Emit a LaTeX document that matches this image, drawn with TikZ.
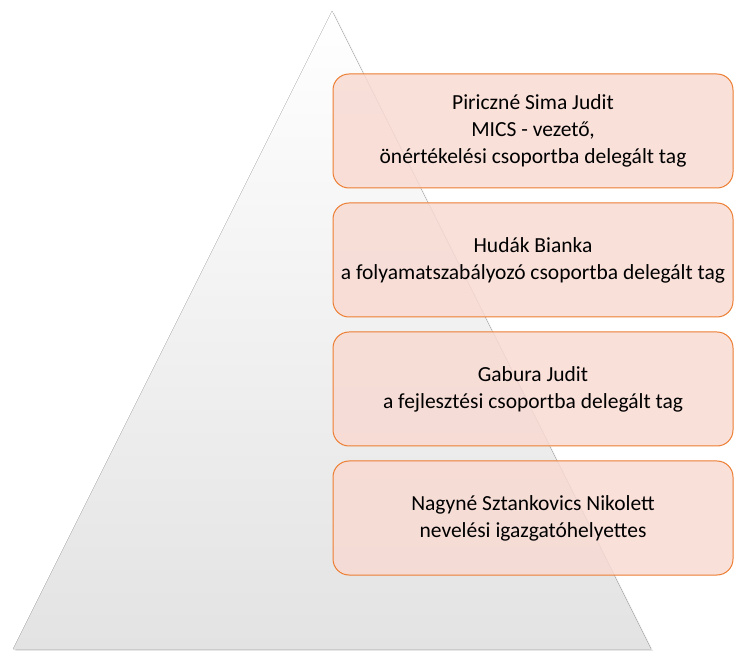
\documentclass[tikz,border=0pt]{standalone}
\usepackage{fontspec}
\setmainfont{Carlito}
\usetikzlibrary{positioning,shadows}

\definecolor{boxfill}{HTML}{F8DAD2}
\definecolor{boxline}{HTML}{ED7D31}
\definecolor{pyrbottom}{HTML}{E3E3E3}

\tikzset{
  member/.style={draw=boxline, line width=1pt, fill=boxfill, fill opacity=0.85,
    text opacity=1, rounded corners=16pt, inner xsep=0pt, minimum width=400pt, minimum height=114pt,
    align=center, font=\fontsize{21.5pt}{27pt}\selectfont},
}

\begin{document}
\begin{tikzpicture}[x=1pt, y=1pt, node distance=14pt]
    \useasboundingbox (0,0) rectangle (735,650);

    % Pyramid
    \fill[top color=white, bottom color=pyrbottom, drop shadow={opacity=0.2, shadow xshift=2pt, shadow yshift=-2pt}]
        (13,1) -- (651,1) -- (332,639) -- cycle;

    % Nodes
    \node[member] (lead) at (533,519) {Piriczné Sima Judit\\MICS - vezető,\\önértékelési csoportba delegált tag};
    \node[member, below=of lead] (flow) {Hudák Bianka\\a folyamatszabályozó csoportba delegált tag};
    \node[member, below=of flow] (dev) {Gabura Judit\\a fejlesztési csoportba delegált tag};
    \node[member, below=of dev] (deputy) {Nagyné Sztankovics Nikolett\\nevelési igazgatóhelyettes};
\end{tikzpicture}
\end{document}
